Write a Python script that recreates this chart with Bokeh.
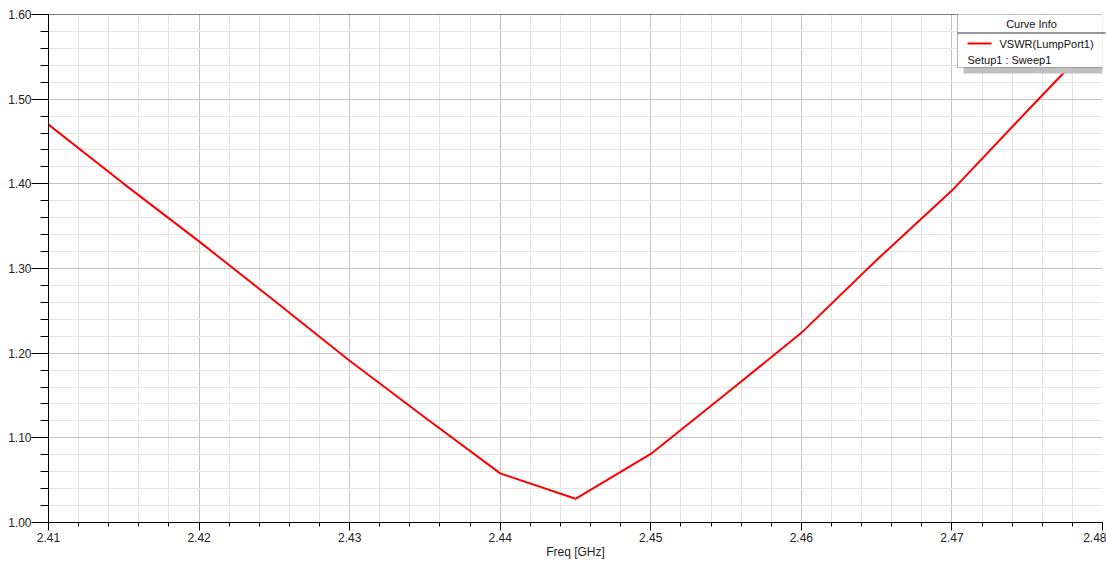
import numpy as np
from bokeh.plotting import figure
from bokeh.models import FixedTicker, PrintfTickFormatter, Span, BoxAnnotation, Label, Range1d
from bokeh.embed import file_html
from bokeh.resources import INLINE

# ---- data ----
freq = [2.41, 2.415, 2.42, 2.425, 2.43, 2.435, 2.44, 2.445, 2.45, 2.455, 2.46, 2.465, 2.47, 2.475, 2.48]
vswr = [1.470, 1.400, 1.332, 1.262, 1.191, 1.124, 1.058, 1.028, 1.081, 1.152, 1.224, 1.310, 1.392, 1.486, 1.579]
x_ticks = [2.41, 2.42, 2.43, 2.44, 2.45, 2.46, 2.47, 2.48]
y_ticks = [1.00, 1.10, 1.20, 1.30, 1.40, 1.50, 1.60]
x_label = "Freq [GHz]"
legend_title = "Curve Info"
series_name = "VSWR(LumpPort1)"
setup_name = "Setup1 : Sweep1"

x_minor = np.round(np.arange(2.41, 2.4801, 0.002), 3).tolist()
y_minor = np.round(np.arange(1.0, 1.6001, 0.02), 2).tolist()

W, H = 1106, 563
BL, BR, BT, BB = 48, 4, 14, 41
FW, FH = W - BL - BR, H - BT - BB
X0, X1, Y0, Y1 = 2.41, 2.48, 1.0, 1.6

p = figure(width=W, height=H, output_backend="svg", toolbar_location=None,
           x_range=Range1d(X0, X1), y_range=Range1d(Y0, Y1),
           min_border_left=BL, min_border_right=BR, min_border_top=BT, min_border_bottom=BB)
p.outline_line_color = None
p.background_fill_color = "white"
p.border_fill_color = "white"

FONT = "Liberation Sans"
xt = FixedTicker(ticks=x_ticks, minor_ticks=x_minor)
yt = FixedTicker(ticks=y_ticks, minor_ticks=y_minor)
p.xaxis.ticker = xt
p.yaxis.ticker = yt
p.xgrid.ticker = xt
p.ygrid.ticker = yt
for ax in (p.xaxis, p.yaxis):
    ax.formatter = PrintfTickFormatter(format="%.2f")
    ax.axis_line_color = "black"
    ax.major_tick_line_color = "black"
    ax.minor_tick_line_color = "black"
    ax.major_tick_in = 0
    ax.minor_tick_in = 0
    ax.major_label_text_font = FONT
    ax.major_label_text_font_size = "12px"
    ax.major_label_text_color = "#222222"
p.yaxis.major_tick_out = 17
p.yaxis.minor_tick_out = 8
p.yaxis.major_label_standoff = 0
p.xaxis.major_tick_out = 8
p.xaxis.minor_tick_out = 4
p.xaxis.major_label_standoff = 2
p.xaxis.axis_label = x_label
p.xaxis.axis_label_text_font = FONT
p.xaxis.axis_label_text_font_size = "12px"
p.xaxis.axis_label_text_font_style = "normal"
p.xaxis.axis_label_text_color = "#222222"
p.xaxis.axis_label_standoff = 0

for g in (p.xgrid, p.ygrid):
    g.grid_line_color = "#c4c4c4"
    g.grid_line_width = 1
    g.minor_grid_line_color = "#e4e4e4"
    g.minor_grid_line_width = 1

p.add_layout(Span(location=Y1, dimension="width", line_color="black", line_width=1, level="underlay"))

p.line(freq, vswr, line_color="#ff0000", line_width=2)

# ---- legend box ("Curve Info"), positioned in page pixels ----
def dx(px):
    return X0 + (px - BL) * (X1 - X0) / FW

def dy(py):
    return Y1 - (py - BT) * (Y1 - Y0) / FH

p.add_layout(BoxAnnotation(left=dx(963), right=dx(1112), top=dy(18), bottom=dy(73),
                           fill_color="#c0c0c0", fill_alpha=1, line_color=None))
p.add_layout(BoxAnnotation(left=dx(957), right=dx(1105), top=dy(12), bottom=dy(67),
                           fill_color="white", fill_alpha=1, line_color="black", line_width=1))
p.segment(x0=[dx(957)], y0=[dy(32.5)], x1=[dx(1105)], y1=[dy(32.5)],
          line_color="#303030", line_width=1, level="overlay")
p.segment(x0=[dx(967)], y0=[dy(43)], x1=[dx(991)], y1=[dy(43)],
          line_color="#ff0000", line_width=2, level="overlay")
for txt, x, y, al in [(legend_title, 1031, 23, "center"),
                      (series_name, 999, 43.5, "left"),
                      (setup_name, 967, 59, "left")]:
    p.add_layout(Label(x=dx(x), y=dy(y), text=txt, text_align=al, text_baseline="middle",
                       text_font=FONT, text_font_size="11px", text_color="#111111", level="overlay"))

open("out.html", "w").write(file_html(p, INLINE))
